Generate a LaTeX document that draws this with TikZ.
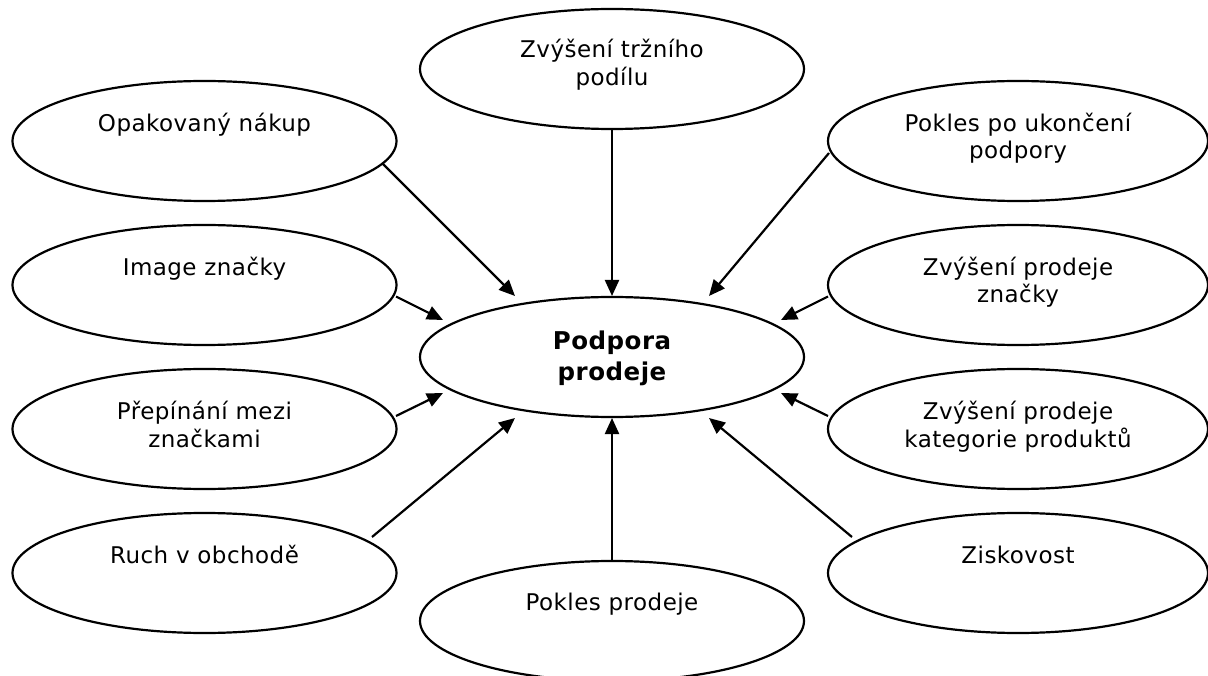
\documentclass[tikz,border=0pt]{standalone}
\usepackage{fontspec}
\setmainfont{DejaVu Sans}[LetterSpace=2]
\usetikzlibrary{shapes.geometric,arrows.meta}
\begin{document}
\begin{tikzpicture}[x=1pt,y=-1pt,
  oval/.style={ellipse,draw=black,line width=2.2pt,minimum width=384pt,minimum height=120pt,inner sep=0pt,fill=white},
  lbl/.style={align=center,inner sep=0pt,anchor=base,font=\fontsize{23}{27.5}\selectfont},
  mainlbl/.style={align=center,inner sep=0pt,anchor=base,font=\fontsize{24.5}{31}\selectfont\bfseries},
  arr/.style={line width=2.2pt,-{Triangle[length=16pt,width=14pt]}}]
\useasboundingbox (0,0) rectangle (1208,676);
\fill[white] (0,0) rectangle (1208,676);
% ellipses
\node[oval] (c) at (612,357) {};
\node[oval] (t) at (612,69) {};
\node[oval] (b) at (612,621) {};
\node[oval] (l1) at (204.5,141) {};
\node[oval] (l2) at (204.5,285) {};
\node[oval] (l3) at (204.5,429) {};
\node[oval] (l4) at (204.5,573) {};
\node[oval,minimum width=380pt] (r1) at (1018,141) {};
\node[oval,minimum width=380pt] (r2) at (1018,285) {};
\node[oval,minimum width=380pt] (r3) at (1018,429) {};
\node[oval,minimum width=380pt] (r4) at (1018,573) {};
% texts (base anchor = baseline of last line)
\node[mainlbl] (tc) at (612,381) {Podpora\\prodeje};
\node[lbl] (tt) at (612,85.5) {Zvýšení tržního\\podílu};
\node[lbl] (tb) at (612,610) {Pokles prodeje};
\node[lbl] (tl1) at (204.5,131.5) {Opakovaný nákup};
\node[lbl] (tl2) at (204.5,275.5) {Image značky};
\node[lbl] (tl3) at (204.5,447) {Přepínání mezi\\značkami};
\node[lbl] (tl4) at (204.5,563.5) {Ruch v obchodě};
\node[lbl] (tr1) at (1018,159) {Pokles po ukončení\\podpory};
\node[lbl] (tr2) at (1018,303) {Zvýšení prodeje\\značky};
\node[lbl] (tr3) at (1018,447) {Zvýšení prodeje\\kategorie produktů};
\node[lbl] (tr4) at (1018,563.5) {Ziskovost};
% connector end points
\coordinate (sl1) at (382,163);
\coordinate (el1) at (515,296);
\coordinate (sl2) at (396,296.5);
\coordinate (el2) at (443,320);
\coordinate (sl3) at (396,416);
\coordinate (el3) at (443,393);
\coordinate (sl4) at (372,537);
\coordinate (el4) at (515,418);
\coordinate (st) at (612,129);
\coordinate (et) at (612,296);
\coordinate (sb) at (612,561);
\coordinate (eb) at (612,418);
\coordinate (sr1) at (829,153);
\coordinate (er1) at (709,296);
\coordinate (sr2) at (828,296.5);
\coordinate (er2) at (781,320);
\coordinate (sr3) at (828,416);
\coordinate (er3) at (781,393);
\coordinate (sr4) at (852,537);
\coordinate (er4) at (709,418);
% connectors
\draw[arr] (sl1) -- (el1);
\draw[arr] (sl2) -- (el2);
\draw[arr] (sl3) -- (el3);
\draw[arr] (sl4) -- (el4);
\draw[arr] (st) -- (et);
\draw[arr] (sb) -- (eb);
\draw[arr] (sr1) -- (er1);
\draw[arr] (sr2) -- (er2);
\draw[arr] (sr3) -- (er3);
\draw[arr] (sr4) -- (er4);
\end{tikzpicture}
\end{document}
